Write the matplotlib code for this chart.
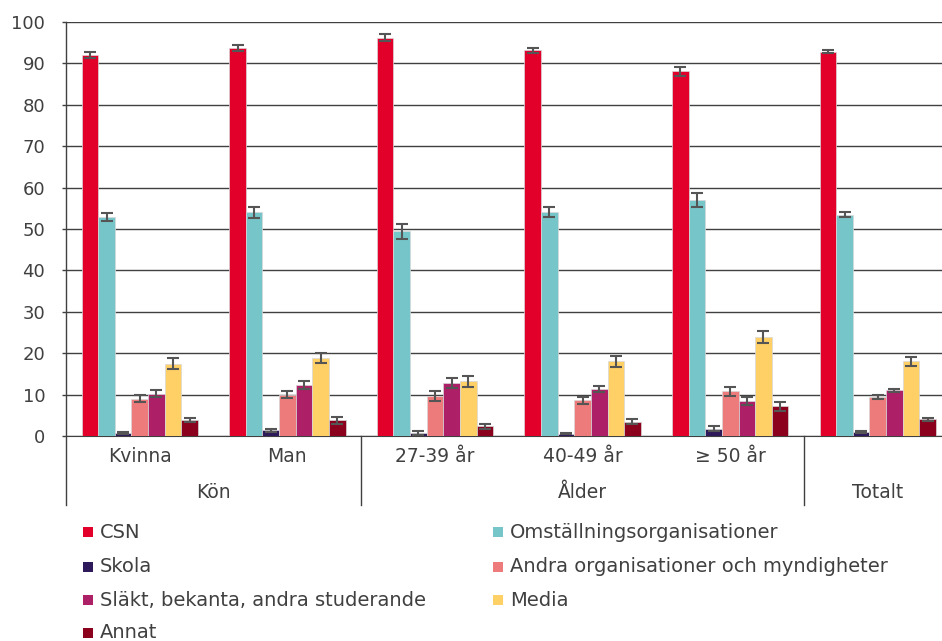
import numpy as np
import matplotlib
matplotlib.use("Agg")
from matplotlib import pyplot as plt
from matplotlib.patches import Rectangle
from matplotlib import transforms

plt.rcParams['font.family'] = ['DejaVu Sans']

categories = ["Kvinna", "Man", "27-39 år", "40-49 år", "≥ 50 år", "Totalt"]
tick_labels = ["Kvinna", "Man", "27-39 år", "40-49 år", "≥ 50 år", ""]
groups = ["Kön", "Ålder", "Totalt"]
group_spans = [(0, 2), (2, 5), (5, 6)]

series = ["CSN", "Omställningsorganisationer", "Skola",
          "Andra organisationer och myndigheter",
          "Släkt, bekanta, andra studerande", "Media", "Annat"]
colors = ["#E2002B", "#76C5C8", "#2E1A5A", "#EE7B7B", "#AD1F66", "#FFD066", "#8B001C"]

csn = [92.1, 93.7, 96.2, 93.2, 88.1, 92.8]
omst = [52.9, 54.0, 49.4, 54.0, 57.1, 53.5]
skola = [0.7, 1.4, 0.7, 0.6, 1.8, 1.0]
andra = [9.0, 10.0, 9.7, 8.6, 10.8, 9.4]
slakt = [10.2, 12.4, 12.8, 11.3, 8.4, 11.0]
media = [17.5, 18.9, 13.2, 18.0, 23.9, 18.0]
annat = [3.8, 3.8, 2.3, 3.4, 7.2, 4.0]

csn_err = [0.7, 0.8, 0.8, 0.6, 1.1, 0.4]
omst_err = [1.0, 1.3, 1.7, 1.2, 1.7, 0.6]
skola_err = [0.3, 0.4, 0.4, 0.2, 0.6, 0.2]
andra_err = [0.8, 0.9, 1.2, 0.8, 1.1, 0.4]
slakt_err = [0.8, 1.0, 1.1, 0.7, 1.0, 0.4]
media_err = [1.3, 1.2, 1.4, 1.3, 1.4, 1.2]
annat_err = [0.5, 0.8, 0.6, 0.6, 1.1, 0.4]

values = [csn, omst, skola, andra, slakt, media, annat]
errors = [csn_err, omst_err, skola_err, andra_err, slakt_err, media_err, annat_err]

text_col = "#404040"

fig = plt.figure(figsize=(9.42, 6.41), dpi=100)
ax = fig.add_axes([66 / 942, 1 - 436 / 641, 1 - 66 / 942, 414 / 641])

x = np.arange(len(categories))
width = 0.1125
for i, (vals, errs) in enumerate(zip(values, errors)):
    pos = x + (i - 3) * width
    ax.bar(pos, vals, width, color=colors[i], edgecolor="#d8d8d8", linewidth=0.5, zorder=3)
    ax.errorbar(pos, vals, yerr=errs, fmt="none", ecolor="#555555",
                elinewidth=1.5, capsize=4, capthick=1.5, zorder=4)

ax.set_ylim(0, 100)
ax.set_yticks(range(0, 101, 10))
ax.set_xlim(-0.5, (942 - 66) / 147.6 - 0.5)
ax.set_xticks([])
ax.grid(axis="y", color="#404040", linewidth=1, zorder=1)
ax.set_axisbelow(True)
for s in ["top", "right", "left"]:
    ax.spines[s].set_visible(False)
ax.spines["bottom"].set_color("#404040")
ax.tick_params(axis="y", length=3, width=1, color="#404040", pad=12,
               labelsize=13, labelcolor=text_col)

trans = transforms.blended_transform_factory(ax.transData, ax.transAxes)
y_bottom = -(505 - 436) / 414
sep_x = [-0.5] + [end - 0.5 for _, end in group_spans[:-1]]
for sx in sep_x:
    ax.plot([sx, sx], [y_bottom, 0 if sx != -0.5 else 1], color="#404040",
            linewidth=1, transform=trans, clip_on=False)

for xi, c in zip(x, tick_labels):
    ax.text(xi, -(457 - 436) / 414, c, transform=trans, ha="center", va="center",
            fontsize=13.5, color=text_col)
for g, (s, e) in zip(groups, group_spans):
    ax.text((s + e - 1) / 2, -(493 - 436) / 414, g, transform=trans, ha="center",
            va="center", fontsize=13.5, color=text_col)

# legend, two columns, filled row by row
row_y = [532, 567, 600, 633]
col_x = [83, 493]
for i, (name, col) in enumerate(zip(series, colors)):
    r, c = divmod(i, 2)
    px, py = col_x[c], row_y[r]
    fig.patches.append(Rectangle((px / 942, 1 - (py + 5) / 641), 10 / 942, 10 / 641,
                                 transform=fig.transFigure, facecolor=col,
                                 edgecolor="none"))
    fig.text((px + 17) / 942, 1 - py / 641, name, ha="left", va="center",
             fontsize=14, color=text_col)

fig.savefig("out.png", dpi=100)
